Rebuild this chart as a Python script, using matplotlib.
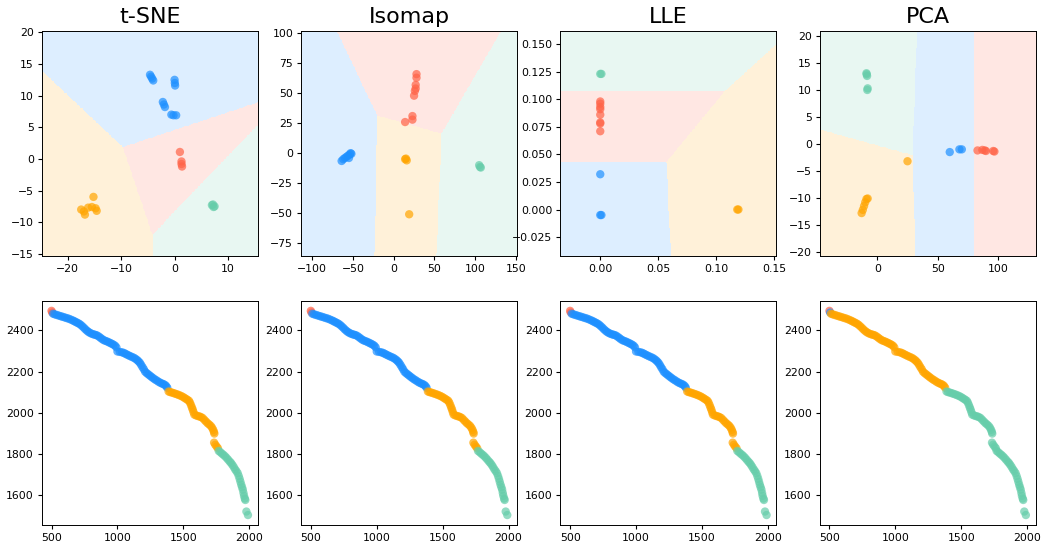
import numpy as np
import matplotlib
matplotlib.use("Agg")
import matplotlib.pyplot as plt
from matplotlib.colors import to_rgba
from matplotlib.ticker import MultipleLocator

plt.rcParams.update({
    "xtick.labelsize": 7.8, "ytick.labelsize": 7.8,
    "xtick.major.size": 2.8, "ytick.major.size": 2.8,
    "xtick.major.pad": 2.8, "ytick.major.pad": 2.8,
    "axes.linewidth": 0.7,
})

methods = ["t-SNE", "Isomap", "LLE", "PCA"]
colors = {"b": "dodgerblue", "r": "tomato", "o": "orange", "g": "mediumaquamarine"}

# original (x, y) points along the curve
curve_x = [500, 505,
           512, 525, 540, 555, 570, 585, 600, 615, 630, 645, 660, 672, 684, 696, 708, 720,
           732, 744, 756, 768, 780, 792, 805, 818, 830, 842, 855, 868, 880, 893, 906, 920,
           933, 946, 958, 970, 982, 992, 1000, 1018, 1034, 1048, 1060, 1072, 1085, 1098,
           1112, 1126, 1138, 1150, 1160, 1170, 1180, 1190, 1200, 1210, 1222, 1234, 1246,
           1258, 1270, 1283, 1296, 1310, 1323, 1336, 1348, 1360, 1370, 1378,
           1388, 1400, 1413, 1426, 1440, 1453, 1466, 1480, 1493, 1506, 1518, 1530, 1542,
           1550, 1558, 1565, 1571, 1577, 1583, 1596, 1610, 1622, 1634, 1647, 1660, 1672,
           1684, 1696, 1708, 1718, 1726, 1732, 1735, 1733, 1742, 1752, 1762,
           1768, 1780, 1792, 1804, 1816, 1828, 1840, 1852, 1862, 1872, 1882, 1892, 1902,
           1912, 1920, 1927, 1933, 1939, 1945, 1951, 1956, 1960, 1966, 1970, 1978, 1990]
curve_y = [2495, 2487,
           2481, 2478, 2475, 2472, 2469, 2466, 2463, 2460, 2457, 2453, 2449, 2445, 2441,
           2437, 2433, 2428, 2421, 2414, 2406, 2399, 2393, 2388, 2384, 2381, 2379, 2377,
           2372, 2366, 2360, 2354, 2350, 2347, 2343, 2339, 2335, 2331, 2326, 2318, 2298,
           2296, 2294, 2291, 2287, 2283, 2279, 2275, 2271, 2267, 2262, 2256, 2250, 2243,
           2233, 2222, 2212, 2200, 2193, 2187, 2181, 2175, 2169, 2163, 2158, 2152, 2147,
           2143, 2140, 2136, 2130, 2122,
           2104, 2101, 2099, 2096, 2093, 2090, 2087, 2083, 2079, 2074, 2069, 2064, 2059,
           2050, 2038, 2026, 2016, 2004, 1992, 1988, 1985, 1983, 1980, 1975, 1966, 1958,
           1950, 1944, 1937, 1928, 1918, 1908, 1900, 1856, 1846, 1837, 1829,
           1816, 1810, 1803, 1797, 1790, 1782, 1773, 1764, 1757, 1748, 1738, 1727, 1718,
           1708, 1694, 1680, 1666, 1652, 1640, 1628, 1612, 1598, 1585, 1578, 1522, 1505]

# cluster sizes along the curve, in order red, blue, orange, green
curve_counts = {
    "t-SNE": [2, 70, 37, 26],
    "Isomap": [2, 70, 37, 26],
    "LLE": [2, 70, 37, 26],
    "PCA": [1, 1, 70, 63],
}

# embedded points
emb_x = {
    "t-SNE": [-4.6, -4.4, -4.2, -4.0, 0.0, 0.05, 0.1, -2.2, -2.0, -1.8, -0.6, -0.2, 0.3,
              1.0, 1.3, 1.3, 1.4,
              -17.5, -17.0, -16.8, -16.2, -15.5, -15.2, -14.8, -14.6,
              7.0, 7.3, 7.2, 7.5],
    "Isomap": [-64, -62, -60, -58, -56, -54, -53, -55, -52,
               28, 28, 27, 27, 26, 25, 23, 23, 14,
               14, 15, 16, 19,
               105, 107, 106],
    "LLE": [0.0, 0.0, 0.001,
            0.0, 0.0, 0.0, 0.0, 0.0, 0.0, 0.0, 0.0,
            0.118, 0.119,
            0.0, 0.001],
    "PCA": [60, 68, 70,
            83, 87, 89, 90, 96, 97,
            -13, -12, -11, -10, -9, -8, 25,
            -9, -8.5, -8.8, -8, -8.3],
}
emb_y = {
    "t-SNE": [13.3, 13.0, 12.7, 12.4, 12.5, 12.0, 11.6, 9.0, 8.6, 8.2, 7.0, 6.9, 6.9,
              1.1, -0.4, -0.8, -1.2,
              -8.0, -8.3, -8.8, -7.7, -7.6, -6.0, -7.8, -8.2,
              -7.3, -7.6, -7.2, -7.5],
    "Isomap": [-6.5, -5, -4, -3, -2, -1, 0, -4, -0.5,
               66, 63, 57, 54, 52, 48, 31, 28, 26,
               -5, -4.5, -6, -51,
               -10, -12, -11.5],
    "LLE": [0.032, -0.005, -0.005,
            0.098, 0.096, 0.093, 0.091, 0.086, 0.079, 0.078, 0.071,
            0.0, 0.0,
            0.123, 0.123],
    "PCA": [-1.5, -1.0, -1.0,
            -1.2, -1.1, -1.2, -1.3, -1.3, -1.4,
            -12.8, -12.2, -11.5, -10.8, -10.2, -10.1, -3.2,
            13.1, 12.6, 12.9, 10.3, 10.0],
}
emb_lab = {
    "t-SNE": "b" * 13 + "r" * 4 + "o" * 8 + "g" * 4,
    "Isomap": "b" * 9 + "r" * 9 + "o" * 4 + "g" * 3,
    "LLE": "b" * 3 + "r" * 8 + "o" * 2 + "g" * 2,
    "PCA": "b" * 3 + "r" * 6 + "o" * 7 + "g" * 5,
}

# k-means centres in each embedding (order b, r, o, g)
centres = {
    "t-SNE": [(-1.75, 10.1), (1.33, -0.9), (-16.0, -7.8), (7.4, -7.8)],
    "Isomap": [(-57, -3.5), (24.5, 53.7), (13.2, -5.6), (100.1, -10.8)],
    "LLE": [(0.0, -0.005), (0.0, 0.092), (0.118, 0.0), (0.0, 0.123)],
    "PCA": [(68, -1.1), (90.8, -1.1), (-9.9, -10.9), (-8.5, 11.5)],
}
extents = {
    "t-SNE": (-24.9, 15.6, -15.3, 20.2),
    "Isomap": (-113.9, 151.6, -85.6, 101.9),
    "LLE": (-0.0344, 0.1517, -0.0419, 0.1618),
    "PCA": (-47.8, 131.2, -20.7, 20.9),
}
xstep = {"t-SNE": 10, "Isomap": 50, "LLE": 0.05, "PCA": 50}
ystep = {"t-SNE": 5, "Isomap": 25, "LLE": 0.025, "PCA": 5}

fig, axes = plt.subplots(2, 4, figsize=(10.43, 5.46), dpi=100)
fig.subplots_adjust(left=0.040, right=0.993, top=0.943, bottom=0.038, wspace=0.2, hspace=0.2)

order = "brog"
for i, m in enumerate(methods):
    ax = axes[0, i]
    x0, x1, y0, y1 = extents[m]
    gx, gy = np.meshgrid(np.linspace(x0, x1, 300), np.linspace(y0, y1, 300))
    c = np.array(centres[m])
    d = (gx[..., None] - c[:, 0]) ** 2 + (gy[..., None] - c[:, 1]) ** 2
    lab = np.argmin(d, axis=-1)
    pal = np.array([to_rgba(colors[k], 0.15) for k in order])
    ax.imshow(pal[lab], extent=(x0, x1, y0, y1), origin="lower", aspect="auto",
              interpolation="nearest")
    ax.scatter(emb_x[m], emb_y[m], c=[colors[k] for k in emb_lab[m]], s=36, alpha=0.7,
               linewidths=0)
    ax.set_xlim(x0, x1)
    ax.set_ylim(y0, y1)
    ax.xaxis.set_major_locator(MultipleLocator(xstep[m]))
    ax.yaxis.set_major_locator(MultipleLocator(ystep[m]))
    ax.set_title(m, fontsize=16)

    ax = axes[1, i]
    labs = "".join(k * n for k, n in zip("rbog", curve_counts[m]))
    ax.scatter(curve_x, curve_y, c=[colors[k] for k in labs], s=36, alpha=0.7, linewidths=0)
    ax.set_xticks([500, 1000, 1500, 2000])
    ax.yaxis.set_major_locator(MultipleLocator(200))

fig.savefig("out.png")
